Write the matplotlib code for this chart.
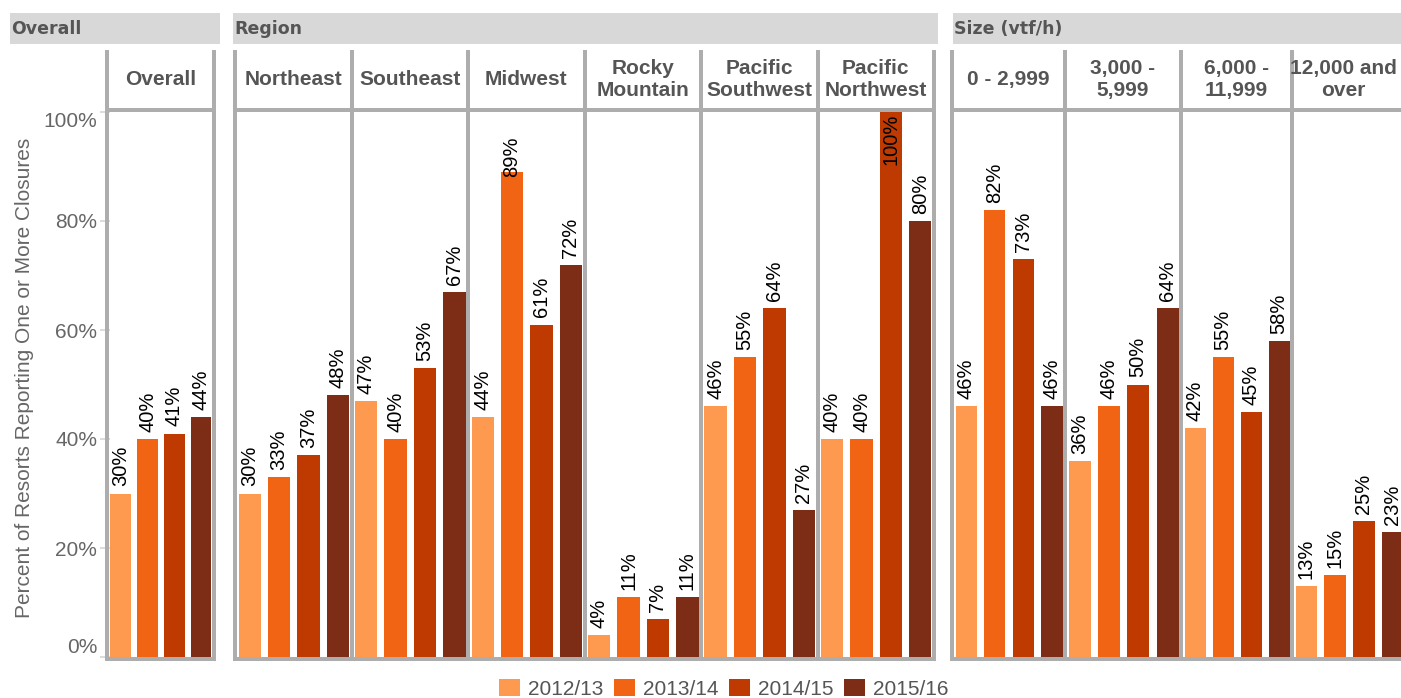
import matplotlib
matplotlib.use("Agg")
import matplotlib.pyplot as plt
from matplotlib.patches import Rectangle, Patch

plt.rcParams["font.family"] = ["Liberation Sans", "DejaVu Sans"]

# ---- data -------------------------------------------------------------
seasons = ["2012/13", "2013/14", "2014/15", "2015/16"]
season_colors = ["#FD9A4F", "#F06414", "#BE3A00", "#7D2D15"]

group_names = ["Overall", "Region", "Size (vtf/h)"]
overall_panels = ["Overall"]
region_panels = ["Northeast", "Southeast", "Midwest", "Rocky\nMountain",
                 "Pacific\nSouthwest", "Pacific\nNorthwest"]
size_panels = ["0 - 2,999", "3,000 -\n5,999", "6,000 -\n11,999", "12,000 and\nover"]

# percent of resorts reporting one or more closures, per season
overall = [30, 40, 41, 44]
northeast = [30, 33, 37, 48]
southeast = [47, 40, 53, 67]
midwest = [44, 89, 61, 72]
rocky_mountain = [4, 11, 7, 11]
pacific_southwest = [46, 55, 64, 27]
pacific_northwest = [40, 40, 100, 80]
size_0_2999 = [46, 82, 73, 46]
size_3000_5999 = [36, 46, 50, 64]
size_6000_11999 = [42, 55, 45, 58]
size_12000_over = [13, 15, 25, 23]

y_ticks = [0, 20, 40, 60, 80, 100]
y_title = "Percent of Resorts Reporting One or More Closures"

group_values = [
    [overall],
    [northeast, southeast, midwest, rocky_mountain, pacific_southwest, pacific_northwest],
    [size_0_2999, size_3000_5999, size_6000_11999, size_12000_over],
]
group_panels = [overall_panels, region_panels, size_panels]

# ---- layout (pixels) ----------------------------------------------------
W, H = 1401, 698
fig = plt.figure(figsize=(W / 100, H / 100), dpi=100)
fig.patch.set_facecolor("white")

LINE = "#ADADAD"
BAND = "#D8D8D8"
HEAD_TXT = "#555555"
AXIS_TXT = "#666666"

y_zero, y_full = 657, 112          # pixel rows of 0% and 100%
line_top, line_bot = 50, 661
band_top, band_bot = 13, 44

group_lines = [
    [107, 214],
    [235 + i * 116.5 for i in range(7)],
    [952, 1065, 1181, 1292, 1406],
]
group_bands = [(10, 220), (233, 938), (953, 1401)]


def fig_box(x0, x1, y_top, y_bottom):
    return [x0 / W, 1 - y_bottom / H, (x1 - x0) / W, (y_bottom - y_top) / H]


panel_axes = []
for gi, (lines, panels, values) in enumerate(zip(group_lines, group_panels, group_values)):
    for pi, (name, vals) in enumerate(zip(panels, values)):
        left, right = lines[pi] + 3.5, lines[pi + 1] - 2.5
        ax = fig.add_axes(fig_box(left, right, y_full, y_zero))
        ax.set_xlim(-0.375, 3.375)
        ax.set_ylim(0, 1)
        fracs = [v / 100 for v in vals]
        ax.bar(range(4), fracs, width=0.75, color=season_colors, zorder=2)
        for i, (v, f) in enumerate(zip(vals, fracs)):
            gap, length, cap = 0.013, 0.075, 0.955
            if f >= cap:
                y, va = f - 0.003, "top"
            elif f + gap + length > cap:
                y, va = cap, "top"
            else:
                y, va = f + gap, "bottom"
            ax.text(i, y, f"{v}%", rotation=90, ha="center", va=va,
                    fontsize=14.5, color="black", clip_on=False, zorder=3)
        for s in ax.spines.values():
            s.set_visible(False)
        ax.set_xticks([])
        ax.patch.set_alpha(0)
        if gi == 0:
            ax.set_yticks([t / 100 for t in y_ticks])
            ax.set_yticklabels([f"{t}%" for t in y_ticks], fontsize=15, color=AXIS_TXT)
            ax.tick_params(axis="y", length=7.5, width=1.2, color="#D6D6D6", pad=2)
            tl = ax.get_yticklabels()
            tl[0].set_va("bottom")
            tl[-1].set_va("top")
        else:
            ax.set_yticks([])
        panel_axes.append(ax)

# ---- frame, headers and separators --------------------------------------
ov = fig.add_axes([0, 0, 1, 1], zorder=5)
ov.set_xlim(0, W)
ov.set_ylim(H, 0)
ov.axis("off")
ov.patch.set_visible(False)

for gname, (bx0, bx1), lines, panels in zip(group_names, group_bands, group_lines, group_panels):
    ov.add_patch(Rectangle((bx0, band_top), bx1 - bx0, band_bot - band_top,
                           facecolor=BAND, edgecolor="none"))
    ov.text(bx0 + 1, (band_top + band_bot) / 2 + 0.5, gname, ha="left", va="center",
            fontsize=12.5, fontweight="bold", color=HEAD_TXT, family="DejaVu Sans")
    x_first, x_last = lines[0] - 2, lines[-1] + 2
    # header underline and bottom baseline
    ov.add_patch(Rectangle((x_first, 108), x_last - x_first, 4,
                           facecolor=LINE, edgecolor="none"))
    ov.add_patch(Rectangle((x_first, 657), x_last - x_first, 4,
                           facecolor=LINE, edgecolor="none"))
    for x in lines:
        ov.add_patch(Rectangle((x - 2, line_top), 4, line_bot - line_top,
                               facecolor=LINE, edgecolor="none"))
    for pi, name in enumerate(panels):
        # headers are centred on the visible part of each panel
        cx = (lines[pi] + min(lines[pi + 1], W - 6)) / 2
        ov.text(cx, 79.5, name, ha="center", va="center", fontsize=15,
                fontweight="bold", color=HEAD_TXT, linespacing=1.2)

ov.text(25, 378, y_title, rotation=90, ha="center", va="center",
        fontsize=15, color=AXIS_TXT)

# ---- legend -------------------------------------------------------------
handles = [Patch(facecolor=c, edgecolor="none") for c in season_colors]
fig.legend(handles, seasons, loc="center", bbox_to_anchor=(724 / W, 1 - 689 / H),
           ncol=4, frameon=False, prop={"family": "Liberation Sans", "size": 15},
           labelcolor=HEAD_TXT, handlelength=1.0, handleheight=0.9,
           handletextpad=0.4, columnspacing=0.5, borderpad=0, borderaxespad=0)

fig.savefig("out.png", dpi=100)
